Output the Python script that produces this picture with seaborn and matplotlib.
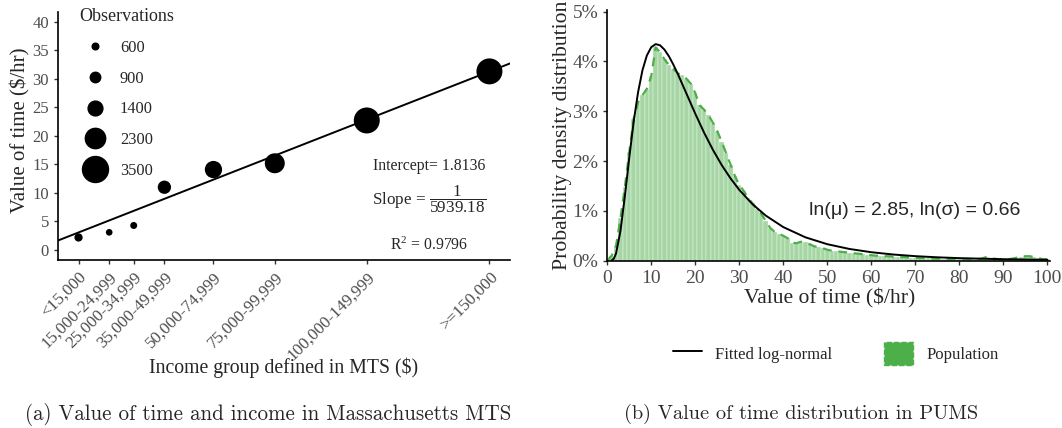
import matplotlib
matplotlib.use("Agg")
import matplotlib.pyplot as plt
import numpy as np
import pandas as pd
import seaborn as sns
from matplotlib.lines import Line2D
from matplotlib.patches import Patch
from matplotlib.ticker import PercentFormatter

# ---- panel (a): value of time vs income group (MTS)
income_labels = ['<15,000', '15,000-24,999', '25,000-34,999', '35,000-49,999',
                 '50,000-74,999', '75,000-99,999', '100,000-149,999', '>=150,000']
income_mid = [7500, 20000, 30000, 42500, 62500, 87500, 125000, 175000]
vot = [2.2, 3.1, 4.3, 11.0, 14.1, 15.2, 22.7, 31.3]
n_obs = [710, 560, 620, 1210, 1770, 2230, 3650, 3500]
legend_obs = [600, 900, 1400, 2300, 3500]
intercept = 1.8136
slope_denom = 5939.18
r2 = 0.9796

# ---- panel (b): value of time distribution (PUMS)
pop_x = list(range(101))
pop_density = [
    0.0000, 0.0010, 0.0030, 0.0085, 0.0148, 0.0218, 0.0285, 0.0317, 0.0332, 0.0345,
    0.0370, 0.0428, 0.0418, 0.0404, 0.0393, 0.0385, 0.0376, 0.0372, 0.0365, 0.0355,
    0.0336, 0.0312, 0.0303, 0.0292, 0.0277, 0.0260, 0.0239, 0.0216, 0.0193, 0.0170,
    0.0152, 0.0140, 0.0126, 0.0115, 0.0104, 0.0094, 0.0080, 0.0066, 0.0058, 0.0054,
    0.0050, 0.0045, 0.0036, 0.0035, 0.0038, 0.0037, 0.0033, 0.0029, 0.0027, 0.0025,
    0.0022, 0.0020, 0.0019, 0.0018, 0.0017, 0.0016, 0.0015, 0.0014, 0.0013, 0.0012,
    0.0011, 0.0010, 0.0010, 0.0009, 0.0009, 0.0008, 0.0008, 0.0007, 0.0007, 0.0006,
    0.0006, 0.0005, 0.0005, 0.0005, 0.0004, 0.0004, 0.0004, 0.0004, 0.0003, 0.0003,
    0.0003, 0.0003, 0.0003, 0.0003, 0.0003, 0.0004, 0.0007, 0.0006, 0.0004, 0.0003,
    0.0003, 0.0003, 0.0004, 0.0006, 0.0008, 0.0009, 0.0009, 0.0007, 0.0005, 0.0003,
    0.0003]
fit_x = [1, 1.5, 2, 3, 4, 5, 6, 7, 8, 9, 10, 11, 12, 13, 14, 15, 16, 18, 20, 22,
         24, 26, 28, 30, 33, 36, 40, 45, 50, 55, 60, 65, 70, 75, 80, 90, 100]
fit_density = [0.00005, 0.00042, 0.00145, 0.00596, 0.01292, 0.02066, 0.02787,
               0.03379, 0.03822, 0.04118, 0.04285, 0.04346, 0.04322, 0.04235,
               0.04103, 0.03938, 0.03752, 0.03352, 0.02949, 0.02570, 0.02226,
               0.01920, 0.01653, 0.01421, 0.01134, 0.00906, 0.00674, 0.00470,
               0.00331, 0.00236, 0.00170, 0.00124, 0.00091, 0.00068, 0.00051,
               0.00030, 0.00018]
fit_label = 'ln(\u03bc) = 2.85, ln(\u03c3) = 0.66'

sns.set_style("ticks")
plt.rcParams['font.family'] = ['Liberation Serif', 'DejaVu Serif']
plt.rcParams['mathtext.fontset'] = 'custom'
plt.rcParams['mathtext.rm'] = 'Liberation Serif'
plt.rcParams['mathtext.it'] = 'Liberation Serif:italic'

green = '#4DAF4A'
tick_grey = '#4D4D4D'

fig = plt.figure(figsize=(10.62, 4.28), dpi=100)
ax1 = fig.add_axes([0.0546, 0.3925, 0.4256, 0.5794])
ax2 = fig.add_axes([0.5718, 0.3909, 0.4169, 0.5857])

# ---------------- left panel
size_range = (23, 350)
size_norm = (600, 3500)
sns.scatterplot(x=income_mid, y=vot, size=n_obs, sizes=size_range, size_norm=size_norm,
                color='black', edgecolor='black', linewidth=0, legend=False, ax=ax1)
ax1.axline((0, intercept), slope=1 / slope_denom, color='black', lw=1.4)
ax1.set_xlim(-875, 183375)
ax1.set_ylim(-1.75, 41.7)
ax1.set_xticks(income_mid)
ax1.set_xticklabels(income_labels, rotation=45, ha='right', va='top',
                    rotation_mode='anchor', fontsize=12.3, color=tick_grey)
ax1.set_yticks(range(0, 41, 5))
ax1.tick_params(axis='y', labelsize=12, labelcolor=tick_grey)
ax1.set_xlabel('Income group defined in MTS ($)', fontsize=14.2, va='center')
ax1.set_ylabel('Value of time ($/hr)', fontsize=15, va='center')
ax1.xaxis.set_label_coords(0.5, -0.435)
ax1.yaxis.set_label_coords(-0.082, 0.524)

ax1.text(150270, 14.8, 'Intercept= %.4f' % intercept, ha='center', va='center', fontsize=11.3)
ax1.text(150270, 8.9, r'Slope$\,=\,\dfrac{1}{%.2f}$' % slope_denom, ha='center', va='center', fontsize=12.3)
ax1.text(150270, 0.9, r'R$^2$ = %.4f' % r2, ha='center', va='center', fontsize=11.3)

handles = []
for v in legend_obs:
    s = size_range[0] + (v - size_norm[0]) / (size_norm[1] - size_norm[0]) * (size_range[1] - size_range[0])
    handles.append(Line2D([], [], marker='o', ls='', color='black', markersize=np.sqrt(s)))
leg = ax1.legend(handles, [str(v) for v in legend_obs], title='Observations', loc='upper left',
                 bbox_to_anchor=(0.0465, 1.016), frameon=False, fontsize=11.8, title_fontsize=13,
                 labelspacing=0.9, handletextpad=0.5, borderpad=0, borderaxespad=0,
                 alignment='left')

# ---------------- right panel
pop = pd.DataFrame({'vot': pop_x, 'density': pop_density})
sns.histplot(data=pop, x='vot', weights='density', binwidth=1, binrange=(-0.5, 100.5),
             color=green, alpha=0.5, edgecolor='white', linewidth=0.25, ax=ax2)
sns.lineplot(data=pop, x='vot', y='density', color=green, lw=1.6, ax=ax2)
ax2.lines[-1].set_dashes((4, 3))
sns.lineplot(x=fit_x, y=fit_density, color='black', lw=1.4, ax=ax2)
ax2.set_xlim(0, 100.6)
ax2.set_ylim(0, 0.0503)
ax2.set_xticks(range(0, 101, 10))
ax2.set_yticks([0, 0.01, 0.02, 0.03, 0.04, 0.05])
ax2.yaxis.set_major_formatter(PercentFormatter(1, decimals=0))
ax2.tick_params(labelsize=14, labelcolor=tick_grey)
ax2.set_xlabel('Value of time ($/hr)', fontsize=15.6, va='center')
ax2.set_ylabel('Probability density distribution', fontsize=15.6, va='center')
ax2.xaxis.set_label_coords(0.503, -0.149)
ax2.yaxis.set_label_coords(-0.102, 0.5)
ax2.text(69.8, 0.0101, fit_label, ha='center', va='center', fontsize=14,
         family=['Liberation Sans', 'DejaVu Sans'])

fig.legend([Line2D([], [], color='black', lw=1.4),
            Patch(facecolor=green, edgecolor=green, linestyle='--', linewidth=1)],
           ['Fitted log-normal', 'Population'], loc='center', bbox_to_anchor=(0.787, 0.173),
           ncol=2, frameon=False, fontsize=12, handlelength=1.75, handleheight=1.75,
           columnspacing=3.1, handletextpad=0.8)

for ax in (ax1, ax2):
    sns.despine(ax=ax)
    for sp in ('left', 'bottom'):
        ax.spines[sp].set_linewidth(1.2)
        ax.spines[sp].set_color('black')
    ax.tick_params(length=3, width=1, color='#333333')

fig.text(268.5 / 1062, 1 - 414 / 428, '(a) Value of time and income in Massachusetts MTS',
         family='cmr10', fontsize=15.1, ha='center', va='center')
fig.text(801.5 / 1062, 1 - 414 / 428, '(b) Value of time distribution in PUMS',
         family='cmr10', fontsize=14.6, ha='center', va='center')

fig.savefig('out.png', dpi=100)
